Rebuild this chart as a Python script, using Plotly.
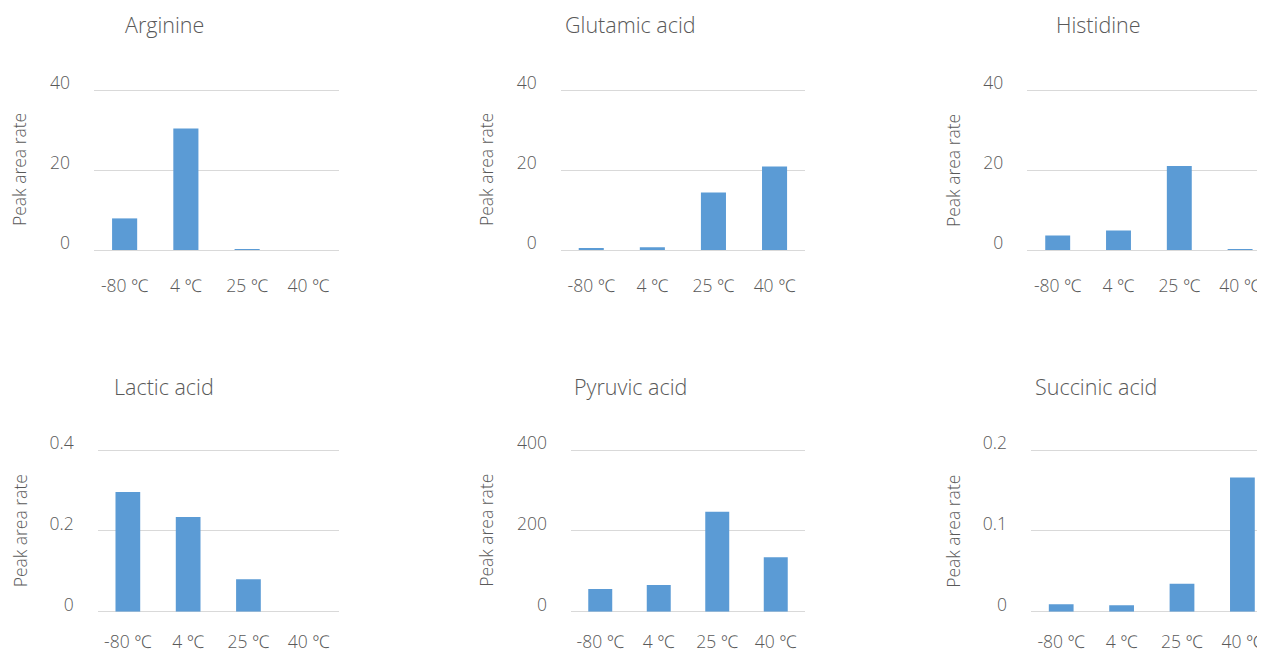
import plotly.graph_objects as go

categories = ["-80 ℃", "4 ℃", "25 ℃", "40 ℃"]
titles = ["Arginine", "Glutamic acid", "Histidine", "Lactic acid", "Pyruvic acid", "Succinic acid"]
arginine = [7.9, 30.4, 0.1, 0]
glutamic = [0.4, 0.7, 14.4, 20.9]
histidine = [3.6, 4.9, 21.0, 0.2]
lactic = [0.296, 0.234, 0.080, 0]
pyruvic = [56, 66, 247, 135]
succinic = [0.0092, 0.0079, 0.0346, 0.166]
series = [arginine, glutamic, histidine, lactic, pyruvic, succinic]
y_max = [40, 40, 40, 0.4, 400, 0.2]
y_dtick = [20, 20, 20, 0.2, 200, 0.1]

OFF = 8  # page body margin
W, H = 1265 - OFF, 653 - OFF
# plot area boxes in screen pixels (x0, x1, y_top, y_bottom); y_top is the max gridline
boxes = [
    (94, 339, 90, 250),
    (560.7, 805, 90, 250),
    (1027.3, 1265, 90, 250),
    (97.7, 339, 450, 611.7),
    (571, 805, 450, 611.7),
    (1031, 1265, 450, 611.7),
]
cat_px = [61.25, 61.1, 60.8, 60.3, 58.5, 60.4]
title_pos = [(164.5, 25), (630, 25), (1098, 25), (164, 386), (630.5, 386), (1096, 386)]
ytitle_x = [19, 486, 953, 19.5, 486, 953]
xlab_standoff = [23, 23, 23, 18, 18, 18]
PAD_TOP = 3  # extra pixels above the top gridline so it is drawn

GRAY = "#595959"
GRID = "#d9d9d9"
FONT = "Open Sans, Noto Sans, sans-serif"
WEIGHT = 300

def px(x):
    return (x - OFF) / W

def py(y):
    return 1 - (y - OFF) / H

fig = go.Figure()
annotations = []
for i in range(6):
    x0, x1, yt, yb = boxes[i]
    ax = "" if i == 0 else str(i + 1)
    fig.add_trace(go.Bar(
        x=categories, y=series[i], xaxis="x" + ax, yaxis="y" + ax,
        marker=dict(color="#5b9bd5", line=dict(width=0)), showlegend=False,
    ))
    xr_end = -0.5 + (x1 - x0) / cat_px[i]
    y_top_range = y_max[i] * (yb - yt + PAD_TOP) / (yb - yt)
    fig.update_layout(**{
        "xaxis" + ax: dict(
            domain=[px(x0), min(1.0, px(x1))], anchor="y" + ax, range=[-0.5, xr_end],
            showgrid=False, showline=False, zeroline=False, ticks="",
            tickfont=dict(family=FONT, size=17.5, color=GRAY, weight=WEIGHT),
            ticklabelstandoff=xlab_standoff[i], automargin=False, fixedrange=True,
        ),
        "yaxis" + ax: dict(
            domain=[py(yb), py(yt - PAD_TOP)], anchor="x" + ax, range=[0, y_top_range],
            dtick=y_dtick[i], tick0=0, showgrid=True, gridcolor=GRID, gridwidth=1.4,
            zeroline=True, zerolinecolor=GRID, zerolinewidth=1.4, showline=False, ticks="",
            tickfont=dict(family=FONT, size=17.5, color=GRAY, weight=WEIGHT),
            ticklabelstandoff=23, ticklabelshift=-7, automargin=False, fixedrange=True,
        ),
    })
    tx, ty = title_pos[i]
    annotations.append(dict(
        text=titles[i], x=px(tx), y=py(ty), xref="paper", yref="paper",
        showarrow=False, xanchor="center", yanchor="middle",
        font=dict(family=FONT, size=21.5, color=GRAY, weight=WEIGHT),
    ))
    annotations.append(dict(
        text="Peak area rate", x=px(ytitle_x[i]), y=py((yt + yb) / 2),
        xref="paper", yref="paper", showarrow=False, textangle=-90,
        xanchor="center", yanchor="middle",
        font=dict(family=FONT, size=17.5, color=GRAY, weight=WEIGHT),
    ))

fig.update_layout(
    width=W, height=H, margin=dict(l=0, r=0, t=0, b=0, pad=0),
    paper_bgcolor="white", plot_bgcolor="white",
    bargap=0.59, annotations=annotations,
)
fig.write_html("out.html")
